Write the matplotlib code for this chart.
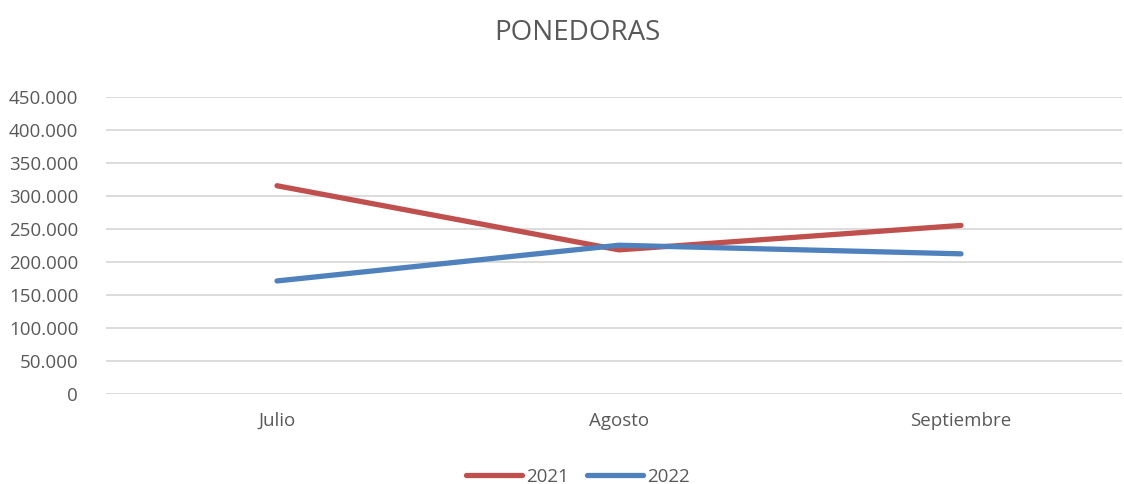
import matplotlib.pyplot as plt
from matplotlib.ticker import FuncFormatter

# data
months = ["Julio", "Agosto", "Septiembre"]
y2021 = [315000, 218000, 255000]
y2022 = [171000, 225000, 212000]

TEXT = "#595959"
GRID = "#D9D9D9"

plt.rcParams["font.family"] = ["Open Sans", "DejaVu Sans"]

fig = plt.figure(figsize=(11.24, 4.84), dpi=100)
ax = fig.add_axes([0.0943, 0.186, 0.9037, 0.6146])

x = range(len(months))
ax.plot(x, y2021, color="#C0504D", lw=3.8, solid_capstyle="round", label="2021")
ax.plot(x, y2022, color="#4F81BD", lw=3.8, solid_capstyle="round", label="2022")

ax.set_ylim(0, 450000)
ax.set_xlim(-0.5, 2.47)
ax.set_yticks(range(0, 450001, 50000))
ax.yaxis.set_major_formatter(
    FuncFormatter(lambda v, p: "0" if v == 0 else f"{int(v):,}".replace(",", "."))
)
ax.set_xticks(list(x))
ax.set_xticklabels(months)

ax.grid(axis="y", color=GRID, lw=1.3)
ax.set_axisbelow(True)
for s in ax.spines.values():
    s.set_visible(False)
ax.tick_params(axis="both", length=0, colors=TEXT, labelsize=13.5)
ax.tick_params(axis="y", pad=20)
ax.tick_params(axis="x", pad=13)

fig.suptitle("PONEDORAS", x=0.514, y=0.96, fontsize=20, color=TEXT)

leg = fig.legend(
    loc="center", bbox_to_anchor=(0.514, 0.015), ncol=2, frameon=False,
    fontsize=13.5, handlelength=3.0, columnspacing=1.0, handletextpad=0.2,
)
for t in leg.get_texts():
    t.set_color(TEXT)

fig.savefig("out.png", dpi=100)
